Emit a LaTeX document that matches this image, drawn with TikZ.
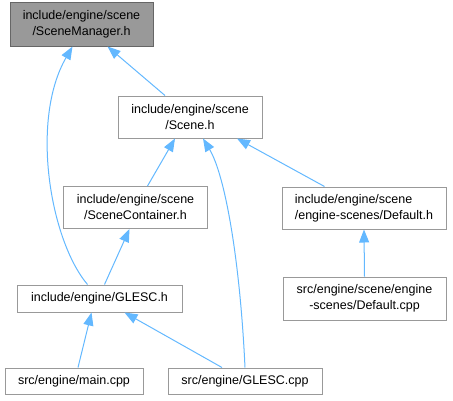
\documentclass[tikz,border=0pt]{standalone}
\usepackage{fontspec}
\setmainfont{Liberation Sans}
\usetikzlibrary{arrows.meta,positioning}
\definecolor{incEdge}{RGB}{99,184,255}
\definecolor{incBorder}{RGB}{153,153,153}
\definecolor{incRootFill}{RGB}{153,153,153}
\definecolor{incRootBorder}{RGB}{102,102,102}

\begin{document}
\begin{tikzpicture}[x=1pt,y=-1pt]
      \tikzset{
      file/.style={rectangle,draw=incBorder,line width=1pt,fill=white,inner sep=0pt,font=\fontsize{12.5}{16}\selectfont,align=center},
      root/.style={file,draw=incRootBorder,fill=incRootFill},
      incl/.style={draw=incEdge,line width=1pt,-{Triangle[length=13pt,width=10pt]}}
    }
    \useasboundingbox (0,0) rectangle (453,400);
    \node[root,minimum width=143pt,minimum height=44pt] (mgr) at (81.5,24) {include/engine/scene\\/SceneManager.h};
    \node[file,minimum width=144pt,minimum height=42pt] (scene) at (190,117) {include/engine/scene\\/Scene.h};
    \node[file,minimum width=144pt,minimum height=42pt] (cont) at (135.5,207.5) {include/engine/scene\\/SceneContainer.h};
    \node[file,minimum width=164pt,minimum height=42pt,align=left] (defh) at (364,208) {include/engine/scene\\/engine-scenes/Default.h};
    \node[file,minimum width=163pt,minimum height=43pt] (defcpp) at (364.5,298.5) {src/engine/scene/engine\\-scenes/Default.cpp};
    \node[file,minimum width=165pt,minimum height=27pt] (glesch) at (99.5,298.5) {include/engine/GLESC.h};
    \node[file,minimum width=138pt,minimum height=26pt] (main) at (74,381) {src/engine/main.cpp};
    \node[file,minimum width=154pt,minimum height=26pt] (glesccpp) at (245,381) {src/engine/GLESC.cpp};
    % include edges
    \draw[incl] ([xshift=-12pt]glesch.north) .. controls (50,240) and (30,120) .. ([xshift=-9pt]mgr.south);
    \draw[incl] ([xshift=-25pt]scene.north) -- ([xshift=26pt]mgr.south);
    \draw[incl] ([xshift=12pt]cont.north) -- ([xshift=-15pt]scene.south);
    \draw[incl] (glesccpp.north) .. controls (240,260) and (225,175) .. ([xshift=13pt]scene.south);
    \draw[incl] ([xshift=43pt]defh.north west) -- ([xshift=47pt]scene.south);
    \draw[incl] ([xshift=5pt]glesch.north) -- ([xshift=-6pt]cont.south);
    \draw[incl] (defcpp.north) -- (defh.south);
    \draw[incl] ([xshift=4pt]main.north) -- ([xshift=-8pt]glesch.south);
    \draw[incl] ([xshift=-23pt]glesccpp.north) -- ([xshift=25pt]glesch.south);
  \end{tikzpicture}
\end{document}
